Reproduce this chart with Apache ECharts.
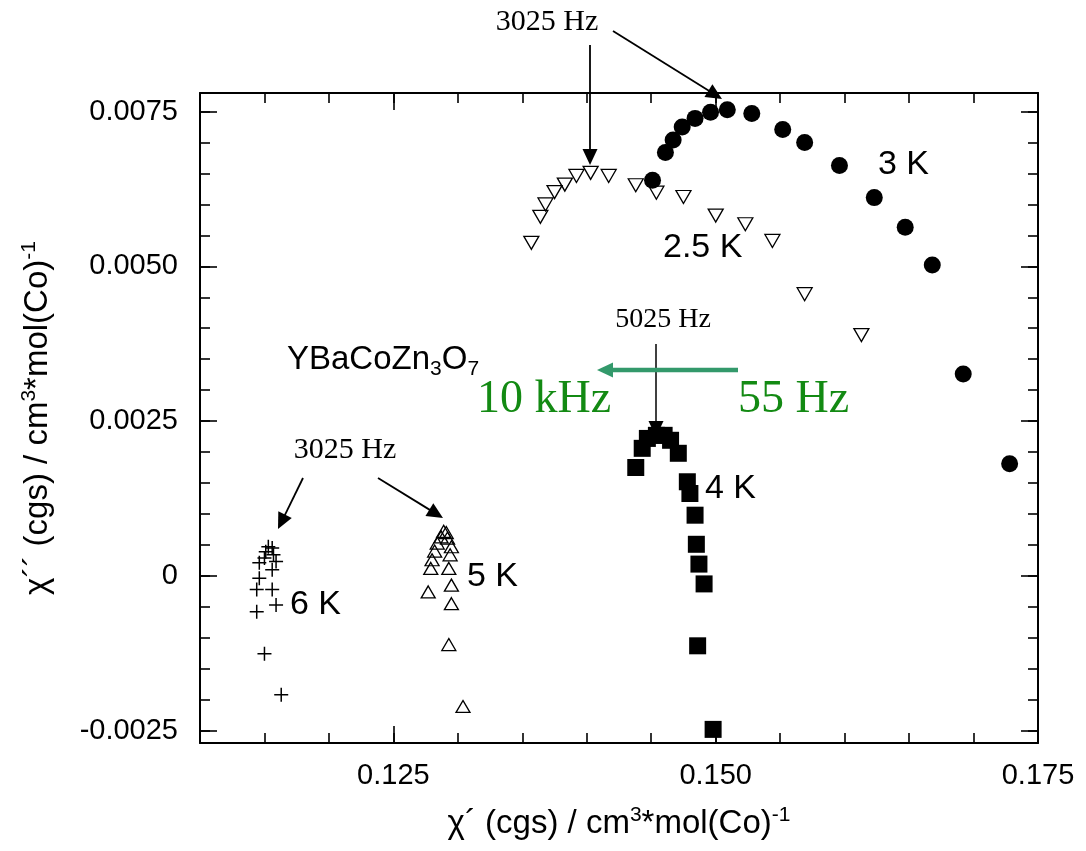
<!DOCTYPE html>
<html>
<head>
<meta charset="utf-8">
<title>YBaCoZn3O7 Cole-Cole plot</title>
<script src="https://cdn.jsdelivr.net/npm/echarts@6/dist/echarts.min.js"></script>
<style>
  html, body { margin: 0; padding: 0; background: #fff; }
  #chart { width: 1086px; height: 851px; }
</style>
</head>
<body>
<div id="chart"></div>
<script>
// χ' (x) and χ'' (y) in cgs units, one array per temperature
const chi3K = [
  [0.1451, 0.00639], [0.1461, 0.00684], [0.1467, 0.00704], [0.1474, 0.00725],
  [0.1484, 0.00739], [0.1496, 0.00749], [0.1509, 0.00753], [0.1528, 0.00747],
  [0.1552, 0.00721], [0.1569, 0.00700], [0.1596, 0.00663], [0.1623, 0.00611],
  [0.1647, 0.00563], [0.1668, 0.00502], [0.1692, 0.00326], [0.1728, 0.00181]
];
const chi25K = [
  [0.1357, 0.00538], [0.1364, 0.00580], [0.1368, 0.00600], [0.1375, 0.00620],
  [0.1383, 0.00632], [0.1392, 0.00646], [0.1403, 0.00651], [0.1417, 0.00646],
  [0.1438, 0.00631], [0.1454, 0.00619], [0.1475, 0.00612], [0.1500, 0.00582],
  [0.1523, 0.00568], [0.1544, 0.00541], [0.1569, 0.00455], [0.1613, 0.00389]
];
const chi4K = [
  [0.1438, 0.00175], [0.1443, 0.00206], [0.1447, 0.00222], [0.1454, 0.00227],
  [0.1460, 0.00227], [0.1465, 0.00219], [0.1471, 0.00198], [0.1478, 0.00152],
  [0.1480, 0.00133], [0.1484, 0.00098], [0.1485, 0.00051], [0.1487, 0.00019],
  [0.1491, -0.00013], [0.1486, -0.00113], [0.1498, -0.00248]
];
const chi5K = [
  [0.1277, -0.00026], [0.1279, 0.00012], [0.1280, 0.00026], [0.1282, 0.00040],
  [0.1284, 0.00053], [0.1287, 0.00063], [0.1289, 0.00072], [0.1291, 0.00070],
  [0.1292, 0.00061], [0.1295, 0.00047], [0.1294, 0.00034], [0.1293, 0.00012],
  [0.1295, -0.00015], [0.1295, -0.00045], [0.1293, -0.00111], [0.1304, -0.00211]
];
const chi6K = [
  [0.1153, 0.00047], [0.1156, 0.00045], [0.1151, 0.00039], [0.1157, 0.00034],
  [0.1150, 0.00029], [0.1159, 0.00023], [0.1146, 0.00021], [0.1156, 0.00010],
  [0.1146, -0.00004], [0.1144, -0.00022], [0.1156, -0.00022], [0.1144, -0.00058],
  [0.1159, -0.00047], [0.1150, -0.00126], [0.1163, -0.00192]
];

// axis ranges and tick values
const X_MIN = 0.110, X_MAX = 0.175;
const Y_MIN = -0.0027, Y_MAX = 0.0078;
const xMajorTicks = [0.125, 0.150, 0.175];
const yMajorTicks = [-0.0025, 0, 0.0025, 0.0050, 0.0075];
const xMinorTicks = [];
for (let i = 22; i <= 35; i++) xMinorTicks.push(+(i * 0.005).toFixed(3));
const yMinorTicks = [];
for (let i = -5; i <= 15; i++) yMinorTicks.push(+(i * 0.0005).toFixed(4));

const SANS = '"Liberation Sans", Arial, Helvetica, sans-serif';
const SERIF = '"Liberation Serif", "Times New Roman", serif';
const INK = '#000';
const tickLine = { color: INK, width: 1.6 };

function axisPair(kind, pos, labelled) {
  const isX = kind === 'x';
  const minor = isX ? xMinorTicks : yMinorTicks;
  const major = isX ? xMajorTicks : yMajorTicks;
  const common = {
    type: 'value',
    min: isX ? X_MIN : Y_MIN,
    max: isX ? X_MAX : Y_MAX,
    position: pos,
    splitLine: { show: false },
    silent: true
  };
  const a = Object.assign({}, common, {
    axisLine: { show: true, onZero: false, lineStyle: { color: INK, width: 2 } },
    axisTick: { show: true, inside: true, length: 10, customValues: minor, lineStyle: tickLine },
    axisLabel: { show: false }
  });
  const b = Object.assign({}, common, {
    axisLine: { show: false, onZero: false },
    axisTick: { show: true, inside: true, length: 17, customValues: major, lineStyle: tickLine },
    axisLabel: labelled ? {
      show: true,
      customValues: major,
      color: INK,
      fontFamily: SANS,
      fontSize: 29,
      margin: isX ? 18 : 22,
      formatter: v => Math.abs(v) < 1e-12 ? '0' : v.toFixed(isX ? 3 : 4)
    } : { show: false }
  });
  return [a, b];
}

const xAxes = axisPair('x', 'bottom', true).concat(axisPair('x', 'top', false));
const yAxes = axisPair('y', 'left', true).concat(axisPair('y', 'right', false));

const titleRich = {
  t: { fontFamily: SANS, fontSize: 33, lineHeight: 38, color: INK },
  u: { fontFamily: SANS, fontSize: 21, lineHeight: 20, verticalAlign: 'top', color: INK }
};
Object.assign(xAxes[1], {
  name: '{t|χ´ (cgs) / cm}{u|3}{t|*mol(Co)}{u|-1}',
  nameLocation: 'middle',
  nameGap: 62,
  nameTextStyle: { rich: titleRich }
});
Object.assign(yAxes[1], {
  name: '{t|χ´´ (cgs) / cm}{u|3}{t|*mol(Co)}{u|-1}',
  nameLocation: 'middle',
  nameRotate: 90,
  nameGap: 143,
  nameTextStyle: { rich: titleRich }
});

// annotation helpers (pixel layout of the text and arrows)
function arrow(x1, y1, x2, y2, color, width, headLen, headW) {
  const ang = Math.atan2(y2 - y1, x2 - x1);
  const c = Math.cos(ang), s = Math.sin(ang);
  const bx = x2 - headLen * c, by = y2 - headLen * s;
  const w = headW / 2;
  return [
    { type: 'line', silent: true, shape: { x1, y1, x2: bx + c, y2: by + s },
      style: { stroke: color, lineWidth: width } },
    { type: 'polygon', silent: true,
      shape: { points: [[x2, y2], [bx - w * s, by + w * c], [bx + w * s, by - w * c]] },
      style: { fill: color } }
  ];
}
function label(text, x, y, font, opts) {
  return {
    type: 'text', silent: true, x, y,
    style: Object.assign({
      text, font, fill: INK, align: 'left', verticalAlign: 'middle'
    }, opts || {})
  };
}

const GREEN_TEXT = '#138a13';
const GREEN_ARROW = '#33996b';

const graphics = [].concat(
  [
    label('3 K', 878, 165, '34px ' + SANS),
    label('2.5 K', 663, 248, '34px ' + SANS),
    label('4 K', 705, 489, '34px ' + SANS),
    label('5 K', 467, 577, '34px ' + SANS),
    label('6 K', 290, 605, '34px ' + SANS),
    label('3025 Hz', 547, 22, '30px ' + SERIF, { align: 'center' }),
    label('5025 Hz', 663, 320, '28px ' + SERIF, { align: 'center' }),
    label('3025 Hz', 345, 450, '30px ' + SERIF, { align: 'center' }),
    label('10 kHz', 477, 400, '46px ' + SERIF, { fill: GREEN_TEXT }),
    label('55 Hz', 738, 400, '46px ' + SERIF, { fill: GREEN_TEXT }),
    {
      type: 'text', silent: true, x: 287, y: 360,
      style: {
        text: '{b|YBaCoZn}{s|3}{b|O}{s|7}',
        align: 'left', verticalAlign: 'middle',
        rich: {
          b: { fontFamily: SANS, fontSize: 33, lineHeight: 40, color: INK },
          s: { fontFamily: SANS, fontSize: 21, lineHeight: 20, verticalAlign: 'bottom', color: INK }
        }
      }
    }
  ],
  arrow(590, 45, 590, 165, INK, 1.8, 16, 15),
  arrow(613, 31, 722, 99, INK, 1.8, 16, 15),
  arrow(656, 344, 656, 437, INK, 1.5, 16, 15),
  arrow(303, 478, 278, 529, INK, 1.8, 16, 15),
  arrow(378, 478, 443, 518, INK, 1.8, 16, 15),
  arrow(738, 370, 597, 370, GREEN_ARROW, 4.5, 16, 15)
);

const openStyle = { color: 'rgba(0,0,0,0)', borderColor: INK, borderWidth: 1.3, opacity: 1 };
const solidStyle = { color: INK, opacity: 1 };

const option = {
  animation: false,
  backgroundColor: '#fff',
  grid: { left: 200, right: 48, top: 93, bottom: 108, containLabel: false },
  xAxis: xAxes,
  yAxis: yAxes,
  series: [
    { name: '3 K', type: 'scatter', data: chi3K, symbol: 'circle', symbolSize: 17,
      itemStyle: solidStyle, silent: true },
    { name: '2.5 K', type: 'scatter', data: chi25K, symbol: 'triangle', symbolRotate: 180,
      symbolSize: [15, 13], itemStyle: openStyle, silent: true },
    { name: '4 K', type: 'scatter', data: chi4K, symbol: 'rect', symbolSize: 17,
      itemStyle: solidStyle, silent: true },
    { name: '5 K', type: 'scatter', data: chi5K, symbol: 'triangle',
      symbolSize: [14, 12], itemStyle: openStyle, silent: true },
    { name: '6 K', type: 'scatter', data: chi6K, symbol: 'path://M0,5L10,5M5,0L5,10',
      symbolSize: 14,
      itemStyle: { color: 'rgba(0,0,0,0)', borderColor: INK, borderWidth: 1.5, opacity: 1 },
      silent: true }
  ],
  graphic: graphics
};

const chart = echarts.init(document.getElementById('chart'), null, { renderer: 'canvas' });
chart.setOption(option);
</script>
</body>
</html>
